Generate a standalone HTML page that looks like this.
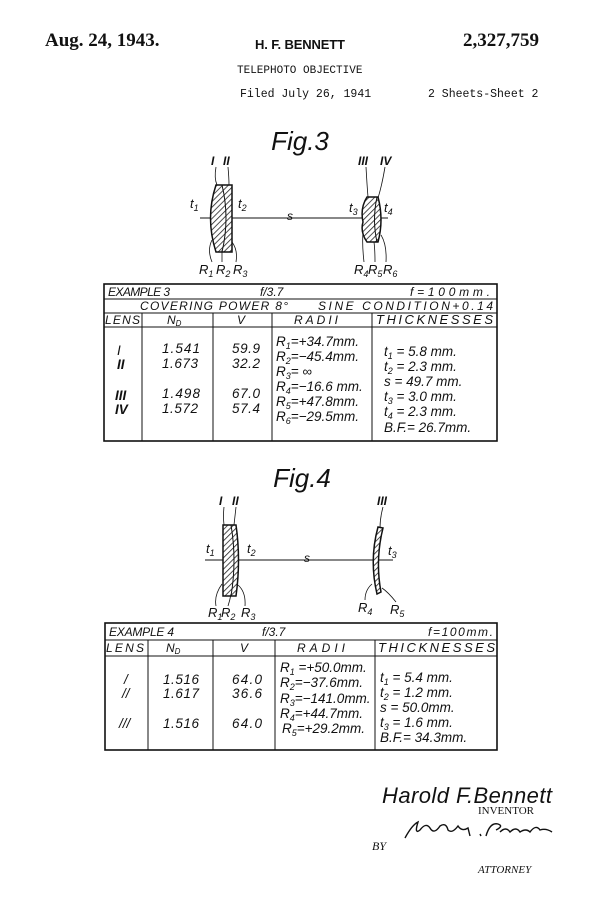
<!DOCTYPE html>
<html><head><meta charset="utf-8"><style>
html,body{margin:0;padding:0;background:#fff;}
svg{display:block;}
.t{font-family:"Liberation Sans",sans-serif;font-style:italic;fill:#111;}
.s{font-family:"Liberation Serif",serif;fill:#111;}
.m{font-family:"Liberation Mono",monospace;fill:#111;}
</style></head><body>
<svg width="600" height="915" viewBox="0 0 600 915" xmlns="http://www.w3.org/2000/svg">
<defs>
<pattern id="h" width="4" height="4" patternUnits="userSpaceOnUse" patternTransform="rotate(45)">
<rect width="4" height="4" fill="#fff"/><line x1="0" y1="0" x2="0" y2="4" stroke="#222" stroke-width="1.6"/></pattern>
</defs>
<!-- header -->
<text x="45" y="46" class="s" font-size="19" font-weight="bold">Aug. 24, 1943.</text>
<text x="255" y="49" font-family="Liberation Sans,sans-serif" font-size="13" font-weight="bold" fill="#111" textLength="90" lengthAdjust="spacing">H. F. BENNETT</text>
<text x="463" y="46" class="s" font-size="19" font-weight="bold">2,327,759</text>
<text x="237" y="73" class="m" font-size="11">TELEPHOTO OBJECTIVE</text>
<text x="240" y="97" class="m" font-size="11.5">Filed July 26, 1941</text>
<text x="428" y="97" class="m" font-size="11.5">2 Sheets-Sheet 2</text>

<!-- Fig 3 -->
<text x="300" y="150" class="t" font-size="26" text-anchor="middle">Fig.3</text>
<line x1="200" y1="218" x2="388" y2="218" stroke="#111" stroke-width="1"/>
<path d="M216 185 L232 185 L232 252 L216 252 Q205 218 216 185 Z" fill="url(#h)" stroke="#111" stroke-width="1.5"/>
<path d="M222 185 Q230 218 222 252" fill="none" stroke="#111" stroke-width="1"/>
<path d="M367 197 L378 197 Q384 220 378 242 L367 242 Q360 232 363 222 Q360 208 367 197 Z" fill="url(#h)" stroke="#111" stroke-width="1.5"/>
<path d="M377 197 Q372 220 377 242" fill="none" stroke="#111" stroke-width="1"/>
<text x="287" y="220" class="t" font-size="12">s</text>
<text x="211" y="165" class="t" font-size="12" font-weight="bold">I</text><text x="223" y="165" class="t" font-size="12" font-weight="bold">II</text>
<path d="M216 167 Q214 178 217 185 M228 167 Q229 178 229 185" stroke="#111" fill="none" stroke-width="0.8"/>
<text x="358" y="165" class="t" font-size="12" font-weight="bold">III</text><text x="380" y="165" class="t" font-size="12" font-weight="bold">IV</text>
<path d="M366 167 Q367 185 368 197 M385 167 Q382 185 378 198" stroke="#111" fill="none" stroke-width="0.8"/>
<text x="190" y="208" class="t" font-size="13">t<tspan font-size="9" dy="3">1</tspan></text>
<text x="238" y="208" class="t" font-size="13">t<tspan font-size="9" dy="3">2</tspan></text>
<text x="349" y="212" class="t" font-size="13">t<tspan font-size="9" dy="3">3</tspan></text>
<text x="384" y="212" class="t" font-size="13">t<tspan font-size="9" dy="3">4</tspan></text>
<path d="M212 262 Q207 250 212 240 M222 262 Q222 255 222 250 M236 262 Q238 250 232 242 M364 262 Q362 245 363 232 M375 262 Q375 250 374 242 M386 262 Q387 245 381 235" stroke="#111" fill="none" stroke-width="0.8"/>
<text x="199" y="274" class="t" font-size="13">R<tspan font-size="9" dy="3">1</tspan></text>
<text x="216" y="274" class="t" font-size="13">R<tspan font-size="9" dy="3">2</tspan></text>
<text x="233" y="274" class="t" font-size="13">R<tspan font-size="9" dy="3">3</tspan></text>
<text x="354" y="274" class="t" font-size="13">R<tspan font-size="9" dy="3">4</tspan></text>
<text x="368" y="274" class="t" font-size="13">R<tspan font-size="9" dy="3">5</tspan></text>
<text x="383" y="274" class="t" font-size="13">R<tspan font-size="9" dy="3">6</tspan></text>

<!-- Table 3 -->
<g stroke="#111" fill="none">
<rect x="104" y="284" width="393" height="157" stroke-width="1.6"/>
<line x1="104" y1="299" x2="497" y2="299" stroke-width="1"/>
<line x1="104" y1="313" x2="497" y2="313" stroke-width="1"/>
<line x1="104" y1="327" x2="497" y2="327" stroke-width="1"/>
<line x1="142" y1="313" x2="142" y2="441"/><line x1="213" y1="313" x2="213" y2="441"/>
<line x1="272" y1="313" x2="272" y2="441"/><line x1="372" y1="313" x2="372" y2="441"/>
</g>
<g class="t" font-size="12">
<text x="108" y="296" textLength="62" lengthAdjust="spacing">EXAMPLE 3</text><text x="260" y="296">f/3.7</text><text x="410" y="296" textLength="80" lengthAdjust="spacing">f=100mm.</text>
<text x="140" y="310" textLength="148" lengthAdjust="spacing">COVERING  POWER 8°</text><text x="318" y="310" textLength="175" lengthAdjust="spacing">SINE CONDITION+0.14</text>
<text x="105" y="324" textLength="35" lengthAdjust="spacing">LENS</text><text x="167" y="324">N<tspan font-size="8" dy="2">D</tspan></text><text x="237" y="324">V</text><text x="294" y="324" textLength="44" lengthAdjust="spacing">RADII</text><text x="376" y="324" font-size="13" textLength="117" lengthAdjust="spacing">THICKNESSES</text>
</g>
<g class="t" font-size="13.5">
<text x="117" y="355">I</text><text x="117" y="369" font-weight="bold">II</text><text x="115" y="400" font-weight="bold">III</text><text x="115" y="414" font-weight="bold">IV</text>
<text x="162" y="353" textLength="38" lengthAdjust="spacing">1.541</text><text x="162" y="368" textLength="36" lengthAdjust="spacing">1.673</text><text x="162" y="398" textLength="38" lengthAdjust="spacing">1.498</text><text x="162" y="413" textLength="36" lengthAdjust="spacing">1.572</text>
<text x="232" y="353" textLength="28" lengthAdjust="spacing">59.9</text><text x="232" y="368" textLength="28" lengthAdjust="spacing">32.2</text><text x="232" y="398" textLength="28" lengthAdjust="spacing">67.0</text><text x="232" y="413" textLength="28" lengthAdjust="spacing">57.4</text>
<text x="276" y="346">R<tspan font-size="9" dy="3">1</tspan><tspan dy="-3">=+34.7mm.</tspan></text>
<text x="276" y="361">R<tspan font-size="9" dy="3">2</tspan><tspan dy="-3">=−45.4mm.</tspan></text>
<text x="276" y="376">R<tspan font-size="9" dy="3">3</tspan><tspan dy="-3">=  ∞</tspan></text>
<text x="276" y="391">R<tspan font-size="9" dy="3">4</tspan><tspan dy="-3">=−16.6 mm.</tspan></text>
<text x="276" y="406">R<tspan font-size="9" dy="3">5</tspan><tspan dy="-3">=+47.8mm.</tspan></text>
<text x="276" y="421">R<tspan font-size="9" dy="3">6</tspan><tspan dy="-3">=−29.5mm.</tspan></text>
<text x="384" y="356">t<tspan font-size="9" dy="3">1</tspan><tspan dy="-3"> =    5.8 mm.</tspan></text>
<text x="384" y="371">t<tspan font-size="9" dy="3">2</tspan><tspan dy="-3"> =    2.3 mm.</tspan></text>
<text x="384" y="386">s  =  49.7 mm.</text>
<text x="384" y="401">t<tspan font-size="9" dy="3">3</tspan><tspan dy="-3"> =    3.0 mm.</tspan></text>
<text x="384" y="416">t<tspan font-size="9" dy="3">4</tspan><tspan dy="-3"> =    2.3 mm.</tspan></text>
<text x="384" y="432">B.F.=  26.7mm.</text>
</g>

<!-- Fig 4 -->
<text x="302" y="487" class="t" font-size="26" text-anchor="middle">Fig.4</text>
<line x1="205" y1="560" x2="393" y2="560" stroke="#111" stroke-width="1"/>
<path d="M223 525 L236 525 Q241 560 236 596 L223 596 Z" fill="url(#h)" stroke="#111" stroke-width="1.5"/>
<path d="M231 525 Q237 560 231 596" fill="none" stroke="#111" stroke-width="1"/>
<path d="M378 527 L383 528 Q375 560 381 592 L377 594 Q369 560 378 527 Z" fill="url(#h)" stroke="#111" stroke-width="1.5"/>
<text x="304" y="562" class="t" font-size="12">s</text>
<text x="219" y="505" class="t" font-size="12" font-weight="bold">I</text><text x="232" y="505" class="t" font-size="12" font-weight="bold">II</text>
<path d="M224 507 Q223 516 224 525 M236 507 Q235 516 234 525" stroke="#111" fill="none" stroke-width="0.8"/>
<text x="377" y="505" class="t" font-size="12" font-weight="bold">III</text>
<path d="M383 507 Q380 518 380 528" stroke="#111" fill="none" stroke-width="0.8"/>
<text x="206" y="553" class="t" font-size="13">t<tspan font-size="9" dy="3">1</tspan></text>
<text x="247" y="553" class="t" font-size="13">t<tspan font-size="9" dy="3">2</tspan></text>
<text x="388" y="555" class="t" font-size="13">t<tspan font-size="9" dy="3">3</tspan></text>
<path d="M216 606 Q214 595 222 584 M228 606 Q230 600 231 594 M245 606 Q246 592 238 585 M365 600 Q365 590 372 584 M396 602 Q388 592 382 588" stroke="#111" fill="none" stroke-width="0.8"/>
<text x="208" y="617" class="t" font-size="13">R<tspan font-size="9" dy="3">1</tspan></text>
<text x="221" y="617" class="t" font-size="13">R<tspan font-size="9" dy="3">2</tspan></text>
<text x="241" y="617" class="t" font-size="13">R<tspan font-size="9" dy="3">3</tspan></text>
<text x="358" y="612" class="t" font-size="13">R<tspan font-size="9" dy="3">4</tspan></text>
<text x="390" y="614" class="t" font-size="13">R<tspan font-size="9" dy="3">5</tspan></text>

<!-- Table 4 -->
<g stroke="#111" fill="none">
<rect x="105" y="623" width="392" height="127" stroke-width="1.6"/>
<line x1="105" y1="640" x2="497" y2="640" stroke-width="1"/>
<line x1="105" y1="656" x2="497" y2="656" stroke-width="1"/>
<line x1="148" y1="640" x2="148" y2="750"/><line x1="213" y1="640" x2="213" y2="750"/>
<line x1="275" y1="640" x2="275" y2="750"/><line x1="375" y1="640" x2="375" y2="750"/>
</g>
<g class="t" font-size="12">
<text x="109" y="636" textLength="65" lengthAdjust="spacing">EXAMPLE 4</text><text x="262" y="636">f/3.7</text><text x="428" y="636" textLength="65" lengthAdjust="spacing">f=100mm.</text>
<text x="106" y="652" textLength="38" lengthAdjust="spacing">LENS</text><text x="166" y="652">N<tspan font-size="8" dy="2">D</tspan></text><text x="240" y="652">V</text><text x="297" y="652" textLength="48" lengthAdjust="spacing">RADII</text><text x="378" y="652" font-size="13" textLength="117" lengthAdjust="spacing">THICKNESSES</text>
</g>
<g class="t" font-size="13.5">
<text x="124" y="684">/</text><text x="122" y="698">//</text><text x="119" y="728">///</text>
<text x="163" y="684" textLength="36" lengthAdjust="spacing">1.516</text><text x="163" y="698" textLength="36" lengthAdjust="spacing">1.617</text><text x="163" y="728" textLength="36" lengthAdjust="spacing">1.516</text>
<text x="232" y="684" textLength="30" lengthAdjust="spacing">64.0</text><text x="232" y="698" textLength="30" lengthAdjust="spacing">36.6</text><text x="232" y="728" textLength="30" lengthAdjust="spacing">64.0</text>
<text x="280" y="672">R<tspan font-size="9" dy="3">1</tspan><tspan dy="-3"> =+50.0mm.</tspan></text>
<text x="280" y="687">R<tspan font-size="9" dy="3">2</tspan><tspan dy="-3">=−37.6mm.</tspan></text>
<text x="280" y="703">R<tspan font-size="9" dy="3">3</tspan><tspan dy="-3">=−141.0mm.</tspan></text>
<text x="280" y="718">R<tspan font-size="9" dy="3">4</tspan><tspan dy="-3">=+44.7mm.</tspan></text>
<text x="282" y="733">R<tspan font-size="9" dy="3">5</tspan><tspan dy="-3">=+29.2mm.</tspan></text>
<text x="380" y="682">t<tspan font-size="9" dy="3">1</tspan><tspan dy="-3"> =   5.4 mm.</tspan></text>
<text x="380" y="697">t<tspan font-size="9" dy="3">2</tspan><tspan dy="-3"> =   1.2 mm.</tspan></text>
<text x="380" y="712">s  =  50.0mm.</text>
<text x="380" y="727">t<tspan font-size="9" dy="3">3</tspan><tspan dy="-3"> =   1.6 mm.</tspan></text>
<text x="380" y="742">B.F.= 34.3mm.</text>
</g>

<!-- signatures -->
<text x="382" y="803" class="t" font-size="22" textLength="170" lengthAdjust="spacing">Harold F.Bennett</text>
<text x="478" y="814" class="s" font-size="11">INVENTOR</text>
<text x="372" y="850" class="s" font-size="12" font-style="italic">BY</text>
<path d="M405 838 Q412 825 418 822 Q414 835 420 830 Q426 822 430 828 Q434 835 440 826 Q446 822 448 830 Q452 834 458 826 Q462 832 468 828 L470 836 M480 834 L481 836 M486 836 Q490 822 498 824 Q504 826 496 830 M500 832 Q506 826 510 832 Q516 826 520 832 Q526 828 530 832 Q536 824 540 830 Q546 828 552 832" fill="none" stroke="#111" stroke-width="1.4"/>
<text x="478" y="873" class="s" font-size="11" font-style="italic">ATTORNEY</text>
</svg>
</body></html>
